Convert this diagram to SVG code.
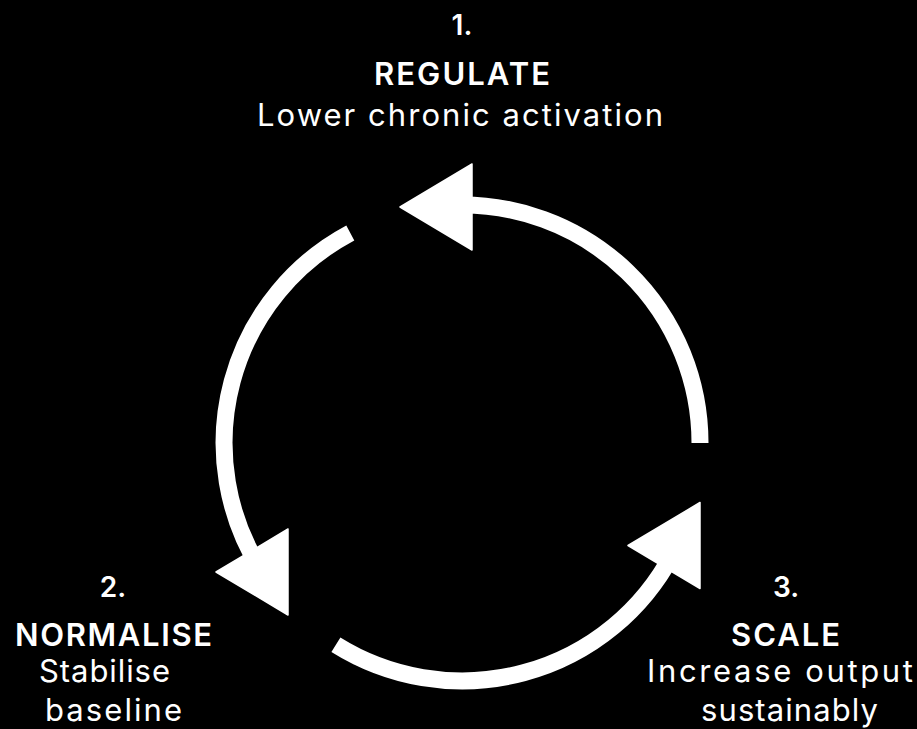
<svg xmlns="http://www.w3.org/2000/svg" width="917" height="729" viewBox="0 0 917 729">
<style>
.bg{fill:#000}
.arc{fill:none;stroke:#fff;stroke-width:17;stroke-linecap:butt}
.head{fill:#fff;stroke:#fff;stroke-width:1.5;stroke-linejoin:round}
text{fill:#fff;font-family:Inter,"Noto Sans","Liberation Sans",sans-serif;text-anchor:middle}
.num{font-size:28px;font-weight:600}
.title{font-size:31px;font-weight:600}
.desc{font-size:31px;font-weight:400}
</style>
<rect class="bg" x="0" y="0" width="917" height="729"/>
<g id="connectors">
<path class="arc" d="M700,443 A238,238 0 0 0 453.7,205.1"/>
<polygon class="head" points="400,207 472,164 472,250"/>
<path class="arc" d="M350.3,232.9 A238,238 0 0 0 260.2,569.1"/>
<polygon class="head" points="216,572 288,529 288,615"/>
<path class="arc" d="M335.9,644.8 A238,238 0 0 0 672.1,554.7"/>
<polygon class="head" points="628,545.5 700,502.5 700,588.5"/>
</g>
<g id="node-regulate">
<text class="num" x="462" y="35">1.</text>
<text class="title" x="462" y="84.5" textLength="176" lengthAdjust="spacing">REGULATE</text>
<text class="desc" x="460" y="125.5" textLength="406" lengthAdjust="spacing">Lower chronic activation</text>
</g>
<g id="node-normalise">
<text class="num" x="113" y="597">2.</text>
<text class="title" x="113.5" y="646" textLength="197" lengthAdjust="spacing">NORMALISE</text>
<text class="desc" x="104.5" y="682" textLength="131" lengthAdjust="spacing">Stabilise</text>
<text class="desc" x="113.5" y="721" textLength="137" lengthAdjust="spacing">baseline</text>
</g>
<g id="node-scale">
<text class="num" x="786" y="597">3.</text>
<text class="title" x="785.5" y="646" textLength="109" lengthAdjust="spacing">SCALE</text>
<text class="desc" x="780" y="682" textLength="266" lengthAdjust="spacing">Increase output</text>
<text class="desc" x="789.5" y="721" textLength="177" lengthAdjust="spacing">sustainably</text>
</g>
</svg>
